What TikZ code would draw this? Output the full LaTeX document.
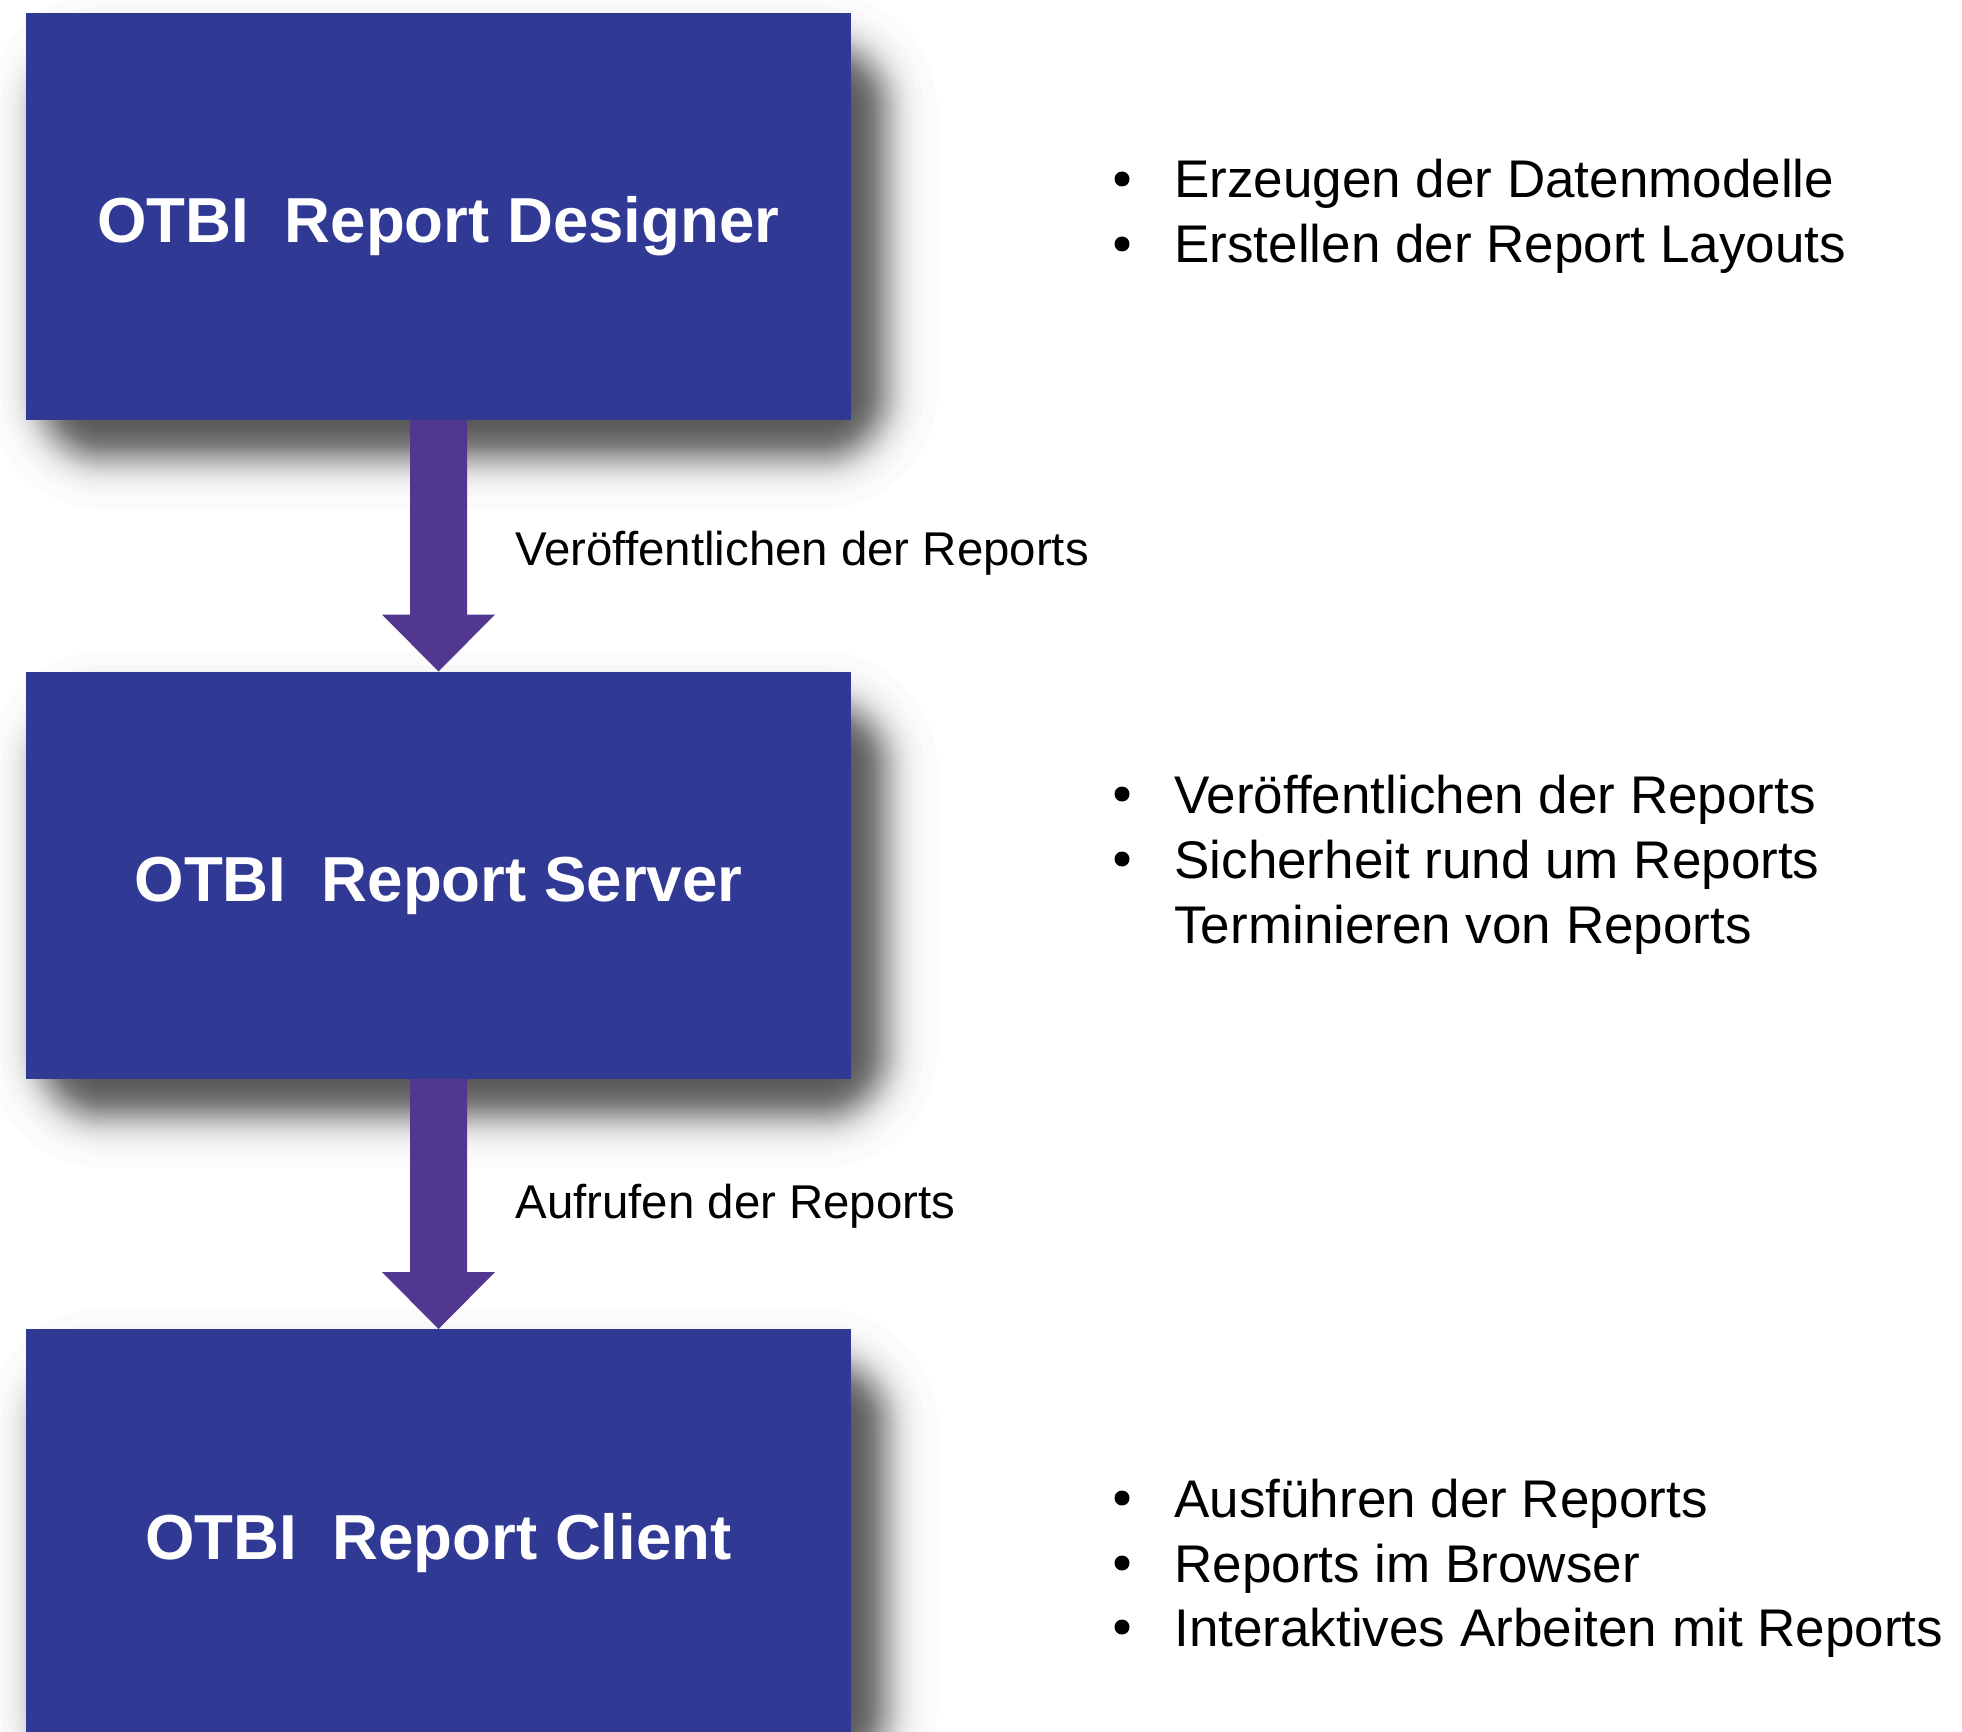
\documentclass[tikz,border=0pt]{standalone}
\usepackage{fontspec}
\setmainfont{Liberation Sans}
\usetikzlibrary{calc,backgrounds}
\definecolor{boxc}{RGB}{48,58,148}
\definecolor{arrowc}{RGB}{81,55,143}
\tikzset{
  mainbox/.style={fill=boxc, draw=none, inner sep=0pt, outer sep=0pt,
    minimum width=412.5pt, minimum height=203.5pt},
  title/.style={anchor=base, text=white, font=\fontsize{31.8}{38}\selectfont\bfseries, inner sep=0pt},
  flowlabel/.style={anchor=base west, inner sep=0pt, font=\fontsize{23.7}{28}\selectfont},
  item/.style={anchor=base west, inner sep=0pt, font=\fontsize{26.5}{32}\selectfont},
  flowarrow/.style={fill=arrowc, draw=none},
  shadowlayer/.style={fill=black, fill opacity=0.0152, draw=none}
}
\newcommand{\softshadow}[1]{%
  \foreach \k in {1,...,60}{%
    \pgfmathsetmacro{\dd}{12*ln(60/(\k-0.5)-1)}%
    \pgfmathsetmacro{\rr}{max(0.5,0.5*(\dd+60))}%
    \fill[shadowlayer, rounded corners=\rr pt]
      ($(#1.north west)+(19-\dd,37-\dd)$) rectangle ($(#1.south east)+(29+\dd,32+\dd)$);
  }%
}
\begin{document}
\begin{tikzpicture}[x=0.5pt,y=-0.5pt]
\useasboundingbox (0,0) rectangle (1962,1732);

\node[mainbox] (b1) at (438.5,216.5) {};
\node[mainbox] (b2) at (438.5,875) {};
\node[mainbox] (b3) at (438.5,1532.5) {};

\begin{scope}[on background layer]
\fill[white] (0,0) rectangle (1962,1732);
\softshadow{b1}
\softshadow{b2}
\softshadow{b3}
\end{scope}

\fill[flowarrow] ($(b1.south)+(-28.5,0)$) -- ($(b2.north)+(-28.5,-57)$) -- ($(b2.north)+(-56.5,-57)$) -- (b2.north) -- ($(b2.north)+(56.5,-57)$) -- ($(b2.north)+(28.5,-57)$) -- ($(b1.south)+(28.5,0)$) -- cycle;
\fill[flowarrow] ($(b2.south)+(-28.5,0)$) -- ($(b3.north)+(-28.5,-57)$) -- ($(b3.north)+(-56.5,-57)$) -- (b3.north) -- ($(b3.north)+(56.5,-57)$) -- ($(b3.north)+(28.5,-57)$) -- ($(b2.south)+(28.5,0)$) -- cycle;

\node[title] (t1) at (438.5,243) {OTBI\ \ Report Designer};
\node[title] (t2) at (438.5,901.5) {OTBI\ \ Report Server};
\node[title] (t3) at (438.5,1559) {OTBI\ \ Report Client};

\node[flowlabel] (l1) at (515,566) {Veröffentlichen der Reports};
\node[flowlabel] (l2) at (515,1218) {Aufrufen der Reports};

\node[item] (a1) at (1174,198) {Erzeugen der Datenmodelle};
\node[item] (a2) at (1174,263) {Erstellen der Report Layouts};
\fill (1122,179) circle[radius=3.75pt];
\fill (1122,244) circle[radius=3.75pt];

\node[item] (c1) at (1174,813) {Veröffentlichen der Reports};
\node[item] (c2) at (1174,878) {Sicherheit rund um Reports};
\node[item] (c3) at (1174,943) {Terminieren von Reports};
\fill (1122,794) circle[radius=3.75pt];
\fill (1122,859) circle[radius=3.75pt];

\node[item] (d1) at (1174,1517) {Ausführen der Reports};
\node[item] (d2) at (1174,1582) {Reports im Browser};
\node[item] (d3) at (1174,1646) {Interaktives Arbeiten mit Reports};
\fill (1122,1498) circle[radius=3.75pt];
\fill (1122,1563) circle[radius=3.75pt];
\fill (1122,1627) circle[radius=3.75pt];
\end{tikzpicture}
\end{document}
